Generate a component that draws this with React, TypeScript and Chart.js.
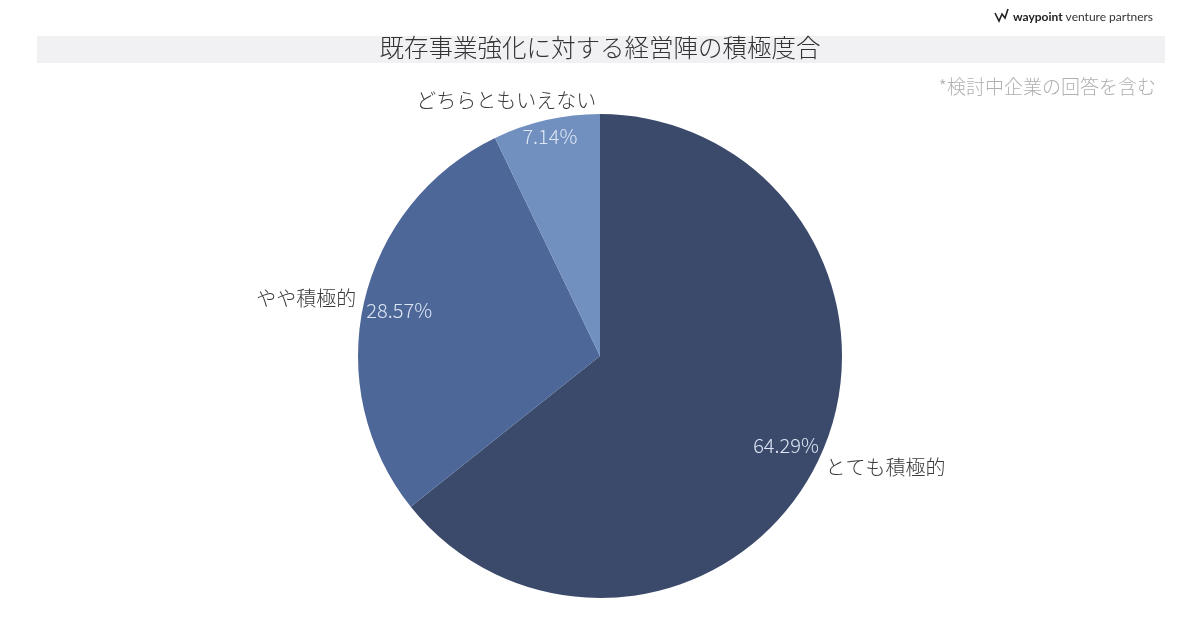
import React, { useEffect, useRef } from "react";
import { Chart, registerables } from "chart.js";

Chart.register(...registerables);

const categories = ["とても積極的", "やや積極的", "どちらともいえない"];
const values = [64.29, 28.57, 7.14];
const percentLabels = ["64.29%", "28.57%", "7.14%"];
const sliceColors = ["#3b4a6b", "#4d6799", "#7190c0"];

const titleText = "既存事業強化に対する経営陣の積極度合";
const noteText = "*検討中企業の回答を含む";

const FONT = '"Noto Sans CJK JP", "Noto Sans", sans-serif';

// outside-label nudges (style only)
const outsideNudge: [number, number, CanvasTextAlign][] = [
  [4, 5, "left"],
  [-4, -3, "right"],
  [51, -16, "right"],
];

const decorPlugin = {
  id: "decor",
  beforeDraw(chart: any) {
    const ctx = chart.ctx as CanvasRenderingContext2D;
    ctx.save();
    ctx.fillStyle = "#ffffff";
    ctx.fillRect(0, 0, chart.width, chart.height);
    // title band
    ctx.fillStyle = "#f1f0f3";
    ctx.fillRect(37, 36, 1128, 27);
    ctx.fillStyle = "#333333";
    ctx.font = `300 24.5px ${FONT}`;
    ctx.textAlign = "center";
    ctx.textBaseline = "middle";
    ctx.fillText(titleText, 600, 48);
    // note
    ctx.fillStyle = "#b0b0b0";
    ctx.font = `300 19px ${FONT}`;
    ctx.textAlign = "right";
    ctx.fillText(noteText, 1156, 87);
    // logo
    ctx.strokeStyle = "#222";
    ctx.lineWidth = 1.6;
    ctx.beginPath();
    ctx.moveTo(995, 13);
    ctx.lineTo(999, 21);
    ctx.lineTo(1002, 14);
    ctx.lineTo(1005, 18);
    ctx.lineTo(1008, 9);
    ctx.stroke();
    ctx.textAlign = "left";
    ctx.fillStyle = "#222";
    ctx.font = `bold 12px "Lato", ${FONT}`;
    ctx.fillText("waypoint", 1013, 17);
    const w = ctx.measureText("waypoint ").width;
    ctx.font = `12px "Lato", ${FONT}`;
    ctx.fillStyle = "#333";
    ctx.fillText("venture partners", 1013 + w, 17);
    ctx.restore();
  },
  afterDatasetsDraw(chart: any) {
    const ctx = chart.ctx as CanvasRenderingContext2D;
    const meta = chart.getDatasetMeta(0);
    ctx.save();
    meta.data.forEach((arc: any, i: number) => {
      const { x, y, startAngle, endAngle, outerRadius } = arc.getProps(
        ["x", "y", "startAngle", "endAngle", "outerRadius"],
        true
      );
      const mid = (startAngle + endAngle) / 2;
      const c = Math.cos(mid);
      const s = Math.sin(mid);
      // percent label, inside end
      ctx.font = `300 20px ${FONT}`;
      const pw = ctx.measureText(percentLabels[i]).width;
      const ph = 18;
      const ext = (Math.abs(c) * pw) / 2 + (Math.abs(s) * ph) / 2;
      const d = outerRadius - ext - 2;
      ctx.fillStyle = "#dde6f4";
      ctx.textAlign = "center";
      ctx.textBaseline = "middle";
      ctx.fillText(percentLabels[i], x + c * d, y + s * d);
      // category label outside
      const [nx, ny, align] = outsideNudge[i];
      const r2 = outerRadius + 4;
      ctx.font = `300 20px ${FONT}`;
      ctx.fillStyle = "#3a3a3a";
      ctx.textAlign = align;
      ctx.fillText(categories[i], x + c * r2 + nx, y + s * r2 + ny);
    });
    ctx.restore();
  },
};

export default function App() {
  const ref = useRef<HTMLCanvasElement>(null);
  useEffect(() => {
    document.body.style.margin = "0";
    const chart = new Chart(ref.current!, {
      type: "pie",
      data: {
        labels: categories,
        datasets: [
          {
            data: values,
            backgroundColor: sliceColors,
            borderWidth: 0,
          },
        ],
      },
      options: {
        responsive: false,
        animation: false,
        layout: { padding: { top: 114, bottom: 32, left: 0, right: 0 } },
        plugins: {
          legend: { display: false },
          tooltip: { enabled: false },
          title: { display: false },
        },
      },
      plugins: [decorPlugin],
    });
    return () => chart.destroy();
  }, []);
  return (
    <div style={{ position: "absolute", left: 0, top: 0, width: 1200, height: 630 }}>
      <canvas ref={ref} width={1200} height={630} />
    </div>
  );
}
